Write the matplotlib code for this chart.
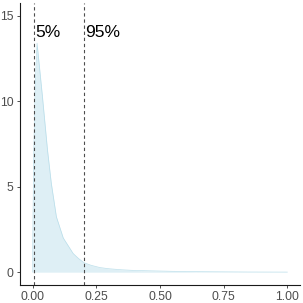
import matplotlib
matplotlib.use("Agg")
import matplotlib.pyplot as plt

# density curve
dens_x = [0.0, 0.004, 0.010, 0.017, 0.038, 0.058, 0.073, 0.093, 0.120, 0.159,
          0.180, 0.202, 0.230, 0.264, 0.300, 0.350, 0.400, 0.460, 0.550, 0.650,
          0.750, 0.850, 1.000]
dens_y = [1.7, 7.0, 11.0, 13.4, 10.3, 7.15, 5.2, 3.24, 2.0, 1.09,
          0.80, 0.55, 0.40, 0.27, 0.20, 0.14, 0.10, 0.08, 0.05, 0.03,
          0.02, 0.01, 0.005]

quant_x = [0.005, 0.20]
quant_labels = ["5%", "95%"]
label_y = 14.0

x_ticks = [0.0, 0.25, 0.5, 0.75, 1.0]
x_tick_labels = ["0.00", "0.25", "0.50", "0.75", "1.00"]
y_ticks = [0, 5, 10, 15]

plt.rcParams["font.family"] = ["Liberation Sans", "DejaVu Sans"]

fig = plt.figure(figsize=(3.03, 3.03), dpi=100)
ax = fig.add_axes([20 / 303, 18 / 303, 280 / 303, 282 / 303])

ax.fill_between([0.0] + dens_x, [0.0] + dens_y, 0, color="#ADD8E6", alpha=0.4, lw=0)
ax.plot([0.0] + dens_x, [0.0] + dens_y, color="#ADD8E6", lw=0.5, alpha=0.8)

for qx, lab in zip(quant_x, quant_labels):
    ax.axvline(qx, color="#4D4D4D", ls=(0, (3, 2.5)), lw=0.8)
    ax.text(qx + 0.004, label_y, lab, ha="left", va="center", fontsize=12.5, color="black")

ax.set_xlim(-0.05, 1.05)
ax.set_ylim(-0.75, 15.75)
ax.set_xticks(x_ticks)
ax.set_xticklabels(x_tick_labels)
ax.set_yticks(y_ticks)

for side in ["top", "right"]:
    ax.spines[side].set_visible(False)
for side in ["left", "bottom"]:
    ax.spines[side].set_color("#1A1A1A")
    ax.spines[side].set_linewidth(0.8)
ax.tick_params(axis="both", length=2.5, width=0.6, color="#333333",
               labelsize=8.8, labelcolor="#4D4D4D", pad=2)

fig.savefig("out.png", dpi=100)
plt.close(fig)
